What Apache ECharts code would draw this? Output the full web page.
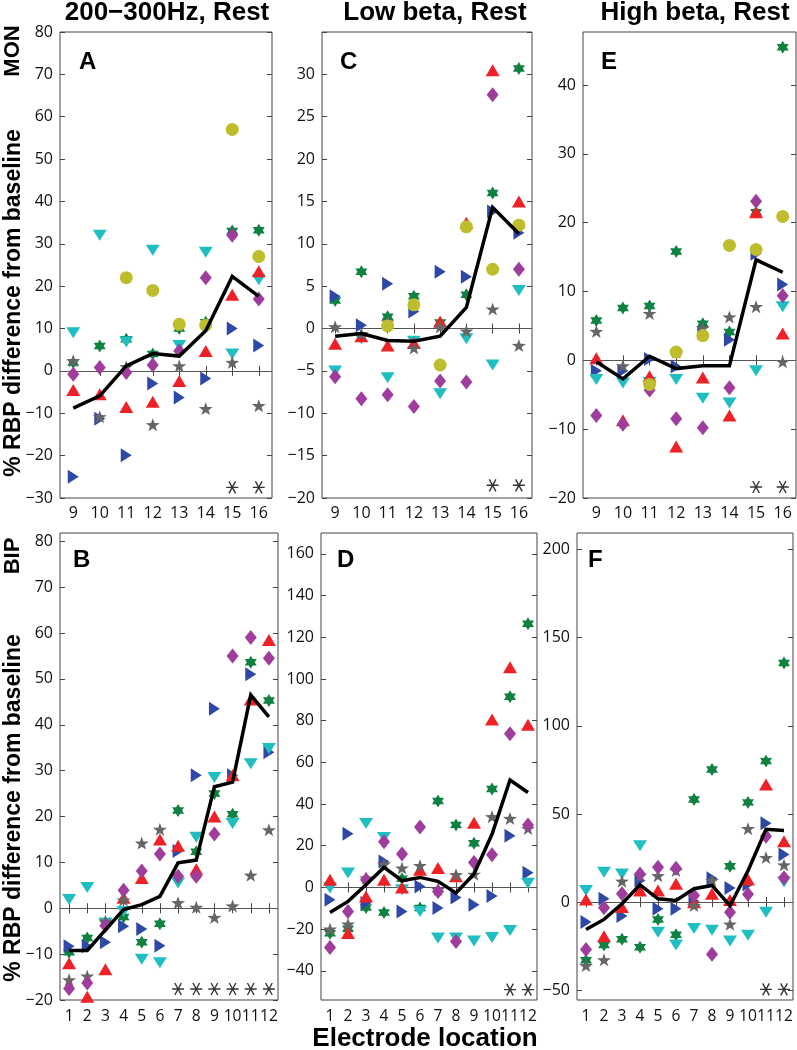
<!DOCTYPE html>
<html><head><meta charset="utf-8">
<script src="https://cdn.jsdelivr.net/npm/echarts@6/dist/echarts.min.js"></script>
<style>html,body{margin:0;padding:0;background:#fff}#c{width:797px;height:1050px}</style>
</head><body><div id="c"></div>
<script>
// ---------- categories ----------
const xTop = [9, 10, 11, 12, 13, 14, 15, 16];
const xBot = [1, 2, 3, 4, 5, 6, 7, 8, 9, 10, 11, 12];

// ---------- tick labels ----------
const yTicksA = [-30, -20, -10, 0, 10, 20, 30, 40, 50, 60, 70, 80];
const yTicksC = [-20, -15, -10, -5, 0, 5, 10, 15, 20, 25, 30, 35];
const yLabelsC = [-20, -15, -10, -5, 0, 5, 10, 15, 20, 25, 30];
const yTicksE = [-20, -10, 0, 10, 20, 30, 40];
const yTicksB = [-20, -10, 0, 10, 20, 30, 40, 50, 60, 70, 80];
const yTicksD = [-40, -20, 0, 20, 40, 60, 80, 100, 120, 140, 160];
const yTicksF = [-50, 0, 50, 100, 150, 200];

// ---------- Panel A: 200-300Hz, Rest, MON ----------
const A_green  = [2, 5.9, 7.5, 4, 10, 11.5, 33, 33.2];
const A_blue   = [-25, -11.3, -19.9, -3, -6.3, -1.8, 10, 6];
const A_cyan   = [9, 32, 6.8, 28.5, 6, 28, 4, 21.5];
const A_red    = [-4.5, -5.5, -8.5, -7.3, -2.4, 4.7, 18, 23.5];
const A_gray   = [2.4, -10.8, 1, -12.7, 1.2, -8.9, 2, -8.2];
const A_purple = [-0.8, 0.8, -0.4, 1.4, 4.7, 22, 32, 17];
const A_yellow = [null, null, 22, 19, 11, 10.8, 57, 27];
const A_mean   = [-8.8, -5.9, 1.2, 4.1, 3.5, 9.5, 22.3, 17.6];
const A_sig    = [15, 16];

// ---------- Panel C: Low beta, Rest, MON ----------
const C_green  = [3.3, 6.7, 1.4, 3.8, 0.7, 4, 16, 30.7];
const C_blue   = [3.8, 0.4, 5.3, 2, 6.7, 6.1, 13.8, 11.3];
const C_cyan   = [-5, -1.2, -5.8, -1.5, -7.7, -1.2, -4.3, 4.5];
const C_red    = [-1.8, -0.9, -2, -1.7, 0.8, 12.5, 30.5, 15];
const C_gray   = [0.2, -0.6, 0.8, -2.3, 0.2, -0.3, 2.3, -2];
const C_purple = [-5.7, -8.3, -7.8, -9.2, -6.2, -6.3, 27.6, 7];
const C_yellow = [null, null, 0.3, 2.8, -4.3, 12, 7, 12.2];
const C_mean   = [-0.9, -0.6, -1.4, -1.5, -0.9, 2.5, 14.3, 11.2];
const C_sig    = [15, 16];

// ---------- Panel E: High beta, Rest, MON ----------
const E_green  = [5.8, 7.6, 7.9, 15.8, 5.3, 4.1, 21.5, 45.5];
const E_blue   = [-1.5, -1.5, 0.2, -0.9, 4, 3, 15.5, 11];
const E_cyan   = [-2.8, -3.3, -3.2, -2.8, -5.5, -6.2, -1.5, 7.8];
const E_red    = [0.3, -8.7, -2.3, -12.5, -2.5, -8, 21.5, 3.9];
const E_gray   = [4.2, -0.8, 6.8, 1.2, 4.7, 6.3, 7.8, -0.2];
const E_purple = [-8, -9.3, -4.3, -8.5, -9.8, -4, 23.1, 9.4];
const E_yellow = [null, null, -3.5, 1.2, 3.6, 16.7, 16.1, 20.9];
const E_mean   = [-0.2, -2.7, 0.6, -1.2, -0.8, -0.8, 14.6, 12.8];
const E_sig    = [15, 16];

// ---------- Panel B: 200-300Hz, Rest, BIP ----------
const B_green  = [-9.6, -6.5, -3.4, -1.9, -7.4, -3.4, 21.3, 12.3, 25, 20.5, 53.6, 45.3];
const B_blue   = [-8.3, -8.3, -7.4, -3.9, -4.5, -8.2, 12.5, 29, 43.5, 29, 51, 34];
const B_cyan   = [1.9, 4.5, -3.2, -0.7, -11.1, -11.9, 5.5, 15.5, 28.5, 18.5, 31.5, 34.8];
const B_red    = [-12, -19.3, -13.3, 2.3, 6.6, 15, 13.6, 8.5, 20, 29, 45.5, 58.5];
const B_gray   = [-15.6, -14.8, -2.8, 1.8, 14.2, 17.2, 1.2, 0.2, -2, 0.5, 7.2, 17.1];
const B_purple = [-17.5, -16.3, -3.8, 3.9, 8.1, 11.8, 7, 7, 16.2, 55, 59, 54.5];
const B_mean   = [-9.2, -9.2, -4.7, -0.3, 0.8, 2.6, 9.9, 10.5, 26.5, 27.5, 46.5, 41.7];
const B_sig    = [7, 8, 9, 10, 11, 12];

// ---------- Panel D: Low beta, Rest, BIP ----------
const D_green  = [-22, -19.8, -9.6, -12, 4.2, -9.9, 41.5, 30, 21.2, 47.2, 91.5, 126.5];
const D_blue   = [-5.9, 25.7, -7.5, 12.4, -11.5, 0.5, -9.9, -4.8, -8.3, -4.1, 24.8, 7];
const D_cyan   = [-0.3, 6.9, 30.6, 24, -1.1, -11.5, -24.3, -24.3, -25.7, -24, -20.7, 2];
const D_red    = [3.7, -21.9, -4.3, 3.7, 0, 8.5, 9.3, 5.3, 31, 80.6, 105.6, 78];
const D_gray   = [-20, -17.6, 4.5, 11.2, 9.3, 10.5, -1, 6.1, 6.3, 33.9, 33.1, 28.3];
const D_purple = [-28.8, -11.5, 3.7, 21.9, 16, 29, -1.9, -25.9, 11.9, 15.7, 73.7, 30];
const D_mean   = [-12, -6.7, 1.3, 9.6, 3.2, 4.8, 2.9, -2.7, 6.4, 25.5, 51.5, 45.5];
const D_sig    = [11, 12];

// ---------- Panel F: High beta, Rest, BIP ----------
const F_green  = [-33, -24.3, -21, -25.6, -9.8, -18.5, 58.3, 75.2, 20.4, 56.6, 80, 135.7];
const F_blue   = [-11.3, 1.9, -7.9, 12.3, -3.8, -3.8, 0.5, 13.6, 8, 10, 44.8, 27];
const F_cyan   = [6.6, 17, 16, 32, -17, -24.3, -15, -16, -22, -18.8, -5.7, 11.5];
const F_red    = [1.5, -19.3, -2.8, 6.6, 6.6, 10.4, 0, 4.7, 1.2, 12.9, 66.8, 34.5];
const F_gray   = [-36, -32.7, 11.9, 15, 15, 18, -1.9, 12.3, -12.5, 41.7, 25.3, 21.1];
const F_purple = [-26.8, -3.2, 4.7, 16, 19.8, 19.3, 3.8, -29.6, -5.7, 4.5, 37.4, 13.9];
const F_mean   = [-15.5, -9.8, -0.9, 9.8, 1.9, 0.9, 7.6, 9.5, -2, 17.8, 41.3, 40.7];
const F_sig    = [11, 12];

// ---------- marker shapes ----------
function starPath(n, rIn) {
  const p = [];
  for (let k = 0; k < 2 * n; k++) {
    const r = k % 2 ? rIn : 1;
    const a = Math.PI / 2 + k * Math.PI / n;
    p.push((r * Math.cos(a)).toFixed(4) + ',' + (-r * Math.sin(a)).toFixed(4));
  }
  return 'path://M' + p.join('L') + 'Z';
}
const HEX = starPath(6, 0.577);
const PENT = starPath(5, 0.40);
const ASTER = 'path://M-1,0L1,0M-0.55,-0.85L0.55,0.85M-0.55,0.85L0.55,-0.85';

const MK = {
  green:  { symbol: HEX, size: [12, 13], rot: 0, color: '#0f8242' },
  blue:   { symbol: 'triangle', size: [14, 11], rot: -90, color: '#2d48a5' },
  cyan:   { symbol: 'triangle', size: [14, 11], rot: 180, color: '#1fbec0' },
  red:    { symbol: 'triangle', size: [14, 12], rot: 0, color: '#ee2127' },
  gray:   { symbol: PENT, size: [14, 13], rot: 0, color: '#666666' },
  purple: { symbol: 'diamond', size: [12, 15], rot: 0, color: '#9f3d9d' },
  yellow: { symbol: 'circle', size: 13, rot: 0, color: '#bebe2c' }
};
const ORDER = ['green', 'blue', 'cyan', 'red', 'gray', 'purple', 'yellow'];

const panels = [
  { g: { left: 60, top: 32, width: 212, height: 466 }, x: xTop, xr: [8.5, 16.5], yr: [-30, 80], yt: yTicksA, yl: yTicksA,
    s: { green: A_green, blue: A_blue, cyan: A_cyan, red: A_red, gray: A_gray, purple: A_purple, yellow: A_yellow }, mean: A_mean, sig: A_sig, sigY: -27.5, lm: 7, fs: 16 },
  { g: { left: 322, top: 32, width: 210, height: 466 }, x: xTop, xr: [8.5, 16.5], yr: [-20, 35], yt: yTicksC, yl: yLabelsC,
    s: { green: C_green, blue: C_blue, cyan: C_cyan, red: C_red, gray: C_gray, purple: C_purple, yellow: C_yellow }, mean: C_mean, sig: C_sig, sigY: -18.5, lm: 7, fs: 16 },
  { g: { left: 583, top: 32, width: 213, height: 466 }, x: xTop, xr: [8.5, 16.5], yr: [-20, 47.7], yt: yTicksE, yl: yTicksE,
    s: { green: E_green, blue: E_blue, cyan: E_cyan, red: E_red, gray: E_gray, purple: E_purple, yellow: E_yellow }, mean: E_mean, sig: E_sig, sigY: -18.4, lm: 7, fs: 16 },
  { g: { left: 60, top: 533, width: 218, height: 467 }, x: xBot, xr: [0.5, 12.5], yr: [-20, 81.8], yt: yTicksB, yl: yTicksB,
    s: { green: B_green, blue: B_blue, cyan: B_cyan, red: B_red, gray: B_gray, purple: B_purple }, mean: B_mean, sig: B_sig, sigY: -17.6, lm: 9, fs: 15.6 },
  { g: { left: 321, top: 533, width: 216, height: 467 }, x: xBot, xr: [0.5, 12.5], yr: [-54, 170], yt: yTicksD, yl: yTicksD,
    s: { green: D_green, blue: D_blue, cyan: D_cyan, red: D_red, gray: D_gray, purple: D_purple }, mean: D_mean, sig: D_sig, sigY: -49, lm: 9, fs: 15.6 },
  { g: { left: 577, top: 533, width: 216, height: 467 }, x: xBot, xr: [0.5, 12.5], yr: [-55.5, 209.4], yt: yTicksF, yl: yTicksF,
    s: { green: F_green, blue: F_blue, cyan: F_cyan, red: F_red, gray: F_gray, purple: F_purple }, mean: F_mean, sig: F_sig, sigY: -49.5, lm: 9, fs: 15.6 }
];

const TICK = { show: true, inside: true, length: 5, lineStyle: { color: '#444', width: 1 } };
const LABEL = { fontFamily: 'Open Sans', fontSize: 16, color: '#111', hideOverlap: false, showMinLabel: true, showMaxLabel: true };

const grid = [], xAxis = [], yAxis = [], series = [];
panels.forEach((p, i) => {
  grid.push(Object.assign({ show: true, borderColor: '#444', borderWidth: 1, backgroundColor: 'transparent' }, p.g));
  xAxis.push({ type: 'value', gridIndex: i, position: 'bottom', min: p.xr[0], max: p.xr[1],
    axisLine: { show: false }, splitLine: { show: false },
    axisTick: Object.assign({ customValues: p.x }, TICK),
    axisLabel: Object.assign({}, LABEL, { customValues: p.x, margin: p.lm, fontSize: p.fs }) });
  xAxis.push({ type: 'value', gridIndex: i, position: 'top', min: p.xr[0], max: p.xr[1],
    axisLine: { show: false }, splitLine: { show: false },
    axisTick: Object.assign({ customValues: p.x }, TICK), axisLabel: { show: false } });
  yAxis.push({ type: 'value', gridIndex: i, position: 'left', min: p.yr[0], max: p.yr[1],
    axisLine: { show: false }, splitLine: { show: false },
    axisTick: Object.assign({ customValues: p.yt }, TICK),
    axisLabel: Object.assign({ customValues: p.yl, margin: 7, formatter: v => (v < 0 ? '\u2212' + (-v) : '' + v) }, LABEL) });
  yAxis.push({ type: 'value', gridIndex: i, position: 'right', min: p.yr[0], max: p.yr[1],
    axisLine: { show: false }, splitLine: { show: false },
    axisTick: Object.assign({ customValues: p.yt }, TICK), axisLabel: { show: false } });

  let first = true;
  ORDER.forEach(k => {
    const arr = p.s[k];
    if (!arr) return;
    const m = MK[k];
    const data = [];
    p.x.forEach((xv, j) => { if (arr[j] != null) data.push([xv, arr[j]]); });
    const ser = { type: 'scatter', xAxisIndex: 2 * i, yAxisIndex: 2 * i, data,
      symbol: m.symbol, symbolSize: m.size, symbolRotate: m.rot, z: 3,
      itemStyle: { color: m.color, opacity: 1 }, emphasis: { disabled: true } };
    if (first) {
      ser.markLine = { silent: true, symbol: 'none', z: 1, label: { show: false },
        lineStyle: { color: '#555', width: 1, type: 'solid' }, data: [{ yAxis: 0 }] };
      first = false;
    }
    series.push(ser);
  });
  series.push({ type: 'line', xAxisIndex: 2 * i, yAxisIndex: 2 * i, z: 6,
    data: p.x.map((xv, j) => [xv, p.mean[j]]), symbol: 'none',
    lineStyle: { color: '#000', width: 3.5, join: 'miter' }, emphasis: { disabled: true } });
  series.push({ type: 'scatter', xAxisIndex: 2 * i, yAxisIndex: 2 * i, z: 7,
    data: p.sig.map(xv => [xv, p.sigY]), symbol: ASTER, symbolSize: [12, 12],
    itemStyle: { color: 'rgba(0,0,0,0)', borderColor: '#000', borderWidth: 1.4 }, emphasis: { disabled: true } });
});

const TF = 'Liberation Sans';
function txt(text, x, y, size, rot, align) {
  return { type: 'text', x, y, rotation: rot || 0, z: 100,
    style: { text, fill: '#000', font: 'bold ' + size + 'px "' + TF + '"',
      textAlign: align || 'center', textVerticalAlign: 'middle' } };
}
const graphic = [
  txt('200\u2212300Hz, Rest', 167, 13, 26),
  txt('Low beta, Rest', 435, 13, 26),
  txt('High beta, Rest', 695, 13, 26),
  txt('MON', 13, 51, 22, Math.PI / 2),
  txt('BIP', 13, 556, 22, Math.PI / 2),
  txt('% RBP difference from baseline', 14, 303, 23, Math.PI / 2),
  txt('% RBP difference from baseline', 14, 808, 23, Math.PI / 2),
  txt('Electrode location', 425, 1039, 26),
  txt('A', 79, 62, 24, 0, 'left'),
  txt('C', 340, 62, 24, 0, 'left'),
  txt('E', 601, 62, 24, 0, 'left'),
  txt('B', 73, 560, 24, 0, 'left'),
  txt('D', 337, 560, 24, 0, 'left'),
  txt('F', 588, 560, 24, 0, 'left')
];

const chart = echarts.init(document.getElementById('c'), null, { renderer: 'canvas' });
chart.setOption({ animation: false, backgroundColor: '#fff', grid, xAxis, yAxis, series, graphic });
</script>
</body></html>
